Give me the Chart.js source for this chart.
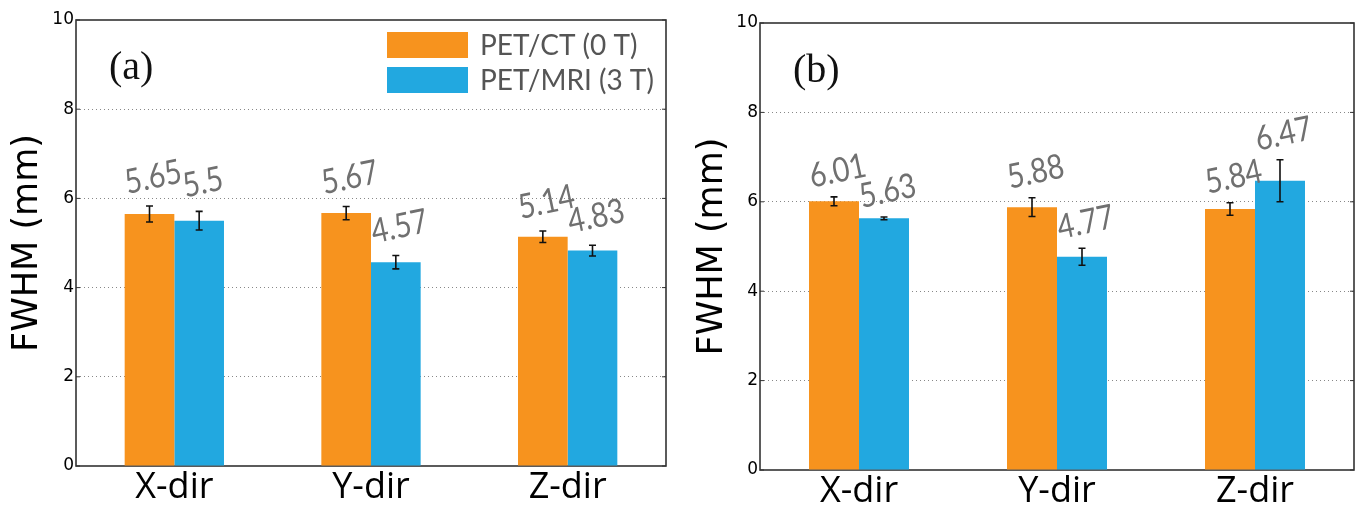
<!DOCTYPE html>
<html>
<head>
<meta charset="utf-8">
<script src="https://cdn.jsdelivr.net/npm/chart.js@4.4.1/dist/chart.umd.min.js"></script>
<style>
  html, body { margin:0; padding:0; background:#fff; }
  #wrap { position:relative; width:1360px; height:508px; }
  .pane { position:absolute; top:0; width:680px; height:508px; }
</style>
</head>
<body>
<div id="wrap">
  <div class="pane" style="left:0"><canvas id="ca"></canvas></div>
  <div class="pane" style="left:680px"><canvas id="cb"></canvas></div>
</div>
<script>
// ---- data ----
const categories = ['X-dir', 'Y-dir', 'Z-dir'];
const seriesNames = ['PET/CT (0 T)', 'PET/MRI (3 T)'];
const seriesColors = ['#F7931E', '#22A8E0'];

const aCT = [5.65, 5.67, 5.14];
const aCTErr = [0.18, 0.15, 0.13];
const aMRI = [5.50, 4.57, 4.83];
const aMRIErr = [0.21, 0.15, 0.12];

const bCT = [6.01, 5.88, 5.84];
const bCTErr = [0.10, 0.21, 0.14];
const bMRI = [5.63, 4.77, 6.47];
const bMRIErr = [0.03, 0.19, 0.47];

const valueLabelsA = [['5.65', '5.67', '5.14'], ['5.5', '4.57', '4.83']];
const valueLabelsB = [['6.01', '5.88', '5.84'], ['5.63', '4.77', '6.47']];

const yMin = 0, yMax = 10, yStep = 2;
const yTitle = 'FWHM (mm)';

// ---- plugins ----
const framePlugin = {
  id: 'frame',
  beforeDatasetsDraw(chart) {
    const {ctx, chartArea: a} = chart;
    ctx.save();
    ctx.strokeStyle = '#333';
    ctx.lineWidth = 1.6;
    ctx.strokeRect(a.left, a.top, a.right - a.left, a.bottom - a.top);
    const ys = chart.scales.y;
    ctx.lineWidth = 1;
    ys.ticks.forEach(t => {
      const py = ys.getPixelForValue(t.value);
      ctx.beginPath();
      ctx.moveTo(a.left, py); ctx.lineTo(a.left + 4, py);
      ctx.moveTo(a.right, py); ctx.lineTo(a.right - 4, py);
      ctx.stroke();
    });
    ctx.restore();
  }
};

const errorLabelPlugin = {
  id: 'errLabels',
  afterDatasetsDraw(chart, args, opts) {
    const {ctx} = chart;
    const ys = chart.scales.y;
    chart.data.datasets.forEach((ds, di) => {
      const meta = chart.getDatasetMeta(di);
      meta.data.forEach((bar, i) => {
        const v = ds.data[i], e = ds.errors[i];
        const yt = ys.getPixelForValue(v + e);
        const yb = ys.getPixelForValue(v - e);
        ctx.save();
        ctx.strokeStyle = '#111';
        ctx.lineWidth = 1.6;
        ctx.beginPath();
        ctx.moveTo(bar.x, yt); ctx.lineTo(bar.x, yb);
        ctx.moveTo(bar.x - 3.5, yt); ctx.lineTo(bar.x + 3.5, yt);
        ctx.moveTo(bar.x - 3.5, yb); ctx.lineTo(bar.x + 3.5, yb);
        ctx.stroke();
        ctx.restore();
        ctx.save();
        ctx.translate(bar.x + 6, yt - opts.offset);
        ctx.rotate(-12 * Math.PI / 180);
        ctx.scale(0.85, 1);
        ctx.font = '34px Lato';
        ctx.fillStyle = '#707070';
        ctx.textAlign = 'center';
        ctx.textBaseline = 'alphabetic';
        ctx.fillText(ds.valueLabels[i], 0, 0);
        ctx.restore();
      });
    });
  }
};

const panelLabelPlugin = {
  id: 'panelLabel',
  afterDraw(chart, args, opts) {
    const {ctx, chartArea: a} = chart;
    ctx.save();
    ctx.font = '40px "Liberation Serif"';
    ctx.fillStyle = '#111';
    ctx.textBaseline = 'alphabetic';
    ctx.fillText(opts.text, a.left + 33, a.top + 59);
    if (opts.legend) {
      const bx = a.left + 311, by = a.top + 12, bw = 81, bh = 26, gap = 9;
      chart.data.datasets.forEach((ds, i) => {
        const y = by + i * (bh + gap);
        ctx.fillStyle = ds.backgroundColor;
        ctx.fillRect(bx, y, bw, bh);
        ctx.font = '28px Lato';
        ctx.fillStyle = '#555';
        ctx.textBaseline = 'middle';
        ctx.fillText(ds.label, bx + bw + 12, y + bh / 2 + 1);
      });
    }
    ctx.restore();
  }
};

function makeChart(id, ct, ctErr, mri, mriErr, labels, pad, panelText, legend, lblOffset) {
  return new Chart(document.getElementById(id), {
    type: 'bar',
    data: {
      labels: categories,
      datasets: [
        { label: seriesNames[0], data: ct, errors: ctErr, valueLabels: labels[0],
          backgroundColor: seriesColors[0], borderWidth: 0 },
        { label: seriesNames[1], data: mri, errors: mriErr, valueLabels: labels[1],
          backgroundColor: seriesColors[1], borderWidth: 0 }
      ]
    },
    plugins: [framePlugin, errorLabelPlugin, panelLabelPlugin],
    options: {
      responsive: true,
      maintainAspectRatio: false,
      animation: false,
      layout: { padding: { left: 0, right: pad.right, top: pad.top, bottom: 0 } },
      datasets: { bar: { categoryPercentage: 0.505, barPercentage: 1.0 } },
      plugins: {
        legend: { display: false },
        tooltip: { enabled: false },
        errLabels: { offset: lblOffset },
        panelLabel: { text: panelText, legend: legend }
      },
      scales: {
        x: {
          grid: { display: false, drawTicks: false },
          border: { display: false },
          ticks: { color: '#000', font: { family: '"Open Sans"', size: 36 }, padding: 0 },
          afterFit(s) { s.height = 508 - pad.top - pad.chartH; }
        },
        y: {
          min: yMin, max: yMax,
          ticks: { stepSize: yStep, color: '#000', padding: 2,
                   font: { family: '"DejaVu Sans"', size: 17 } },
          grid: {
            drawTicks: false,
            color: ctx => (ctx.tick && (ctx.tick.value === yMin || ctx.tick.value === yMax)) ? 'rgba(0,0,0,0)' : '#888',
            lineWidth: 1
          },
          border: { display: false, dash: [1, 3] },
          title: { display: true, text: yTitle, color: '#000',
                   font: { family: '"DejaVu Sans"', size: 35 }, padding: { top: pad.titlePad, bottom: 0 } },
          afterFit(s) { s.width = pad.axisW; }
        }
      }
    }
  });
}

const chartA = makeChart('ca', aCT, aCTErr, aMRI, aMRIErr, valueLabelsA,
  { right: 14, top: 20, axisW: 76, chartH: 446, titlePad: 7 }, '(a)', true, 18);
const chartB = makeChart('cb', bCT, bCTErr, bMRI, bMRIErr, valueLabelsB,
  { right: 6, top: 23, axisW: 80, chartH: 447, titlePad: 12 }, '(b)', false, 15);
</script>
</body>
</html>
